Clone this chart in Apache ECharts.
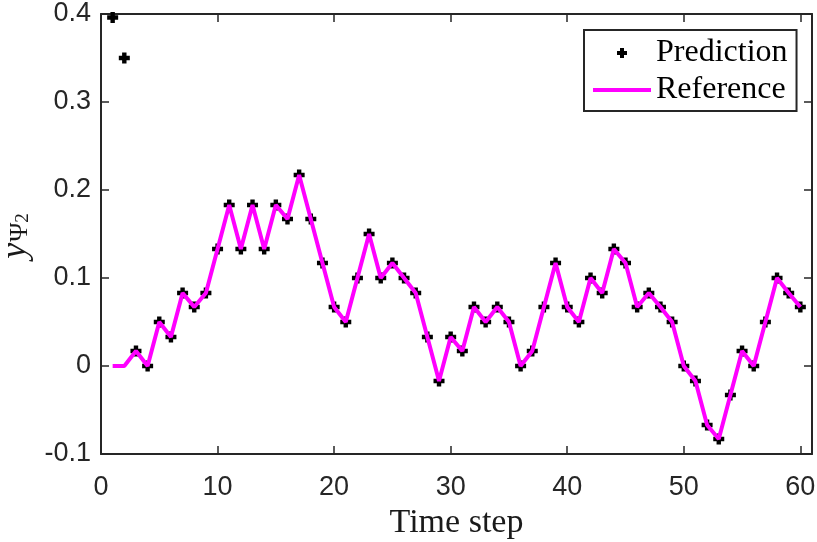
<!DOCTYPE html>
<html>
<head>
<meta charset="utf-8">
<script src="https://cdn.jsdelivr.net/npm/echarts@6/dist/echarts.min.js"></script>
<style>html,body{margin:0;padding:0;background:#fff}#c{width:817px;height:542px}</style>
</head>
<body>
<div id="c"></div>
<script>
var timeSteps = [1,2,3,4,5,6,7,8,9,10,11,12,13,14,15,16,17,18,19,20,21,22,23,24,25,26,27,28,29,30,31,32,33,34,35,36,37,38,39,40,41,42,43,44,45,46,47,48,49,50,51,52,53,54,55,56,57,58,59,60];
var prediction = [0.396,0.35,0.017,0,0.05,0.033,0.083,0.067,0.083,0.133,0.183,0.133,0.183,0.133,0.183,0.167,0.217,0.167,0.117,0.067,0.05,0.1,0.15,0.1,0.117,0.1,0.083,0.033,-0.017,0.033,0.017,0.067,0.05,0.067,0.05,0,0.017,0.067,0.117,0.067,0.05,0.1,0.083,0.133,0.117,0.067,0.083,0.067,0.05,0,-0.017,-0.067,-0.083,-0.033,0.017,0,0.05,0.1,0.083,0.067];
var reference = [0,0,0.017,0,0.05,0.033,0.083,0.067,0.083,0.133,0.183,0.133,0.183,0.133,0.183,0.167,0.217,0.167,0.117,0.067,0.05,0.1,0.15,0.1,0.117,0.1,0.083,0.033,-0.017,0.033,0.017,0.067,0.05,0.067,0.05,0,0.017,0.067,0.117,0.067,0.05,0.1,0.083,0.133,0.117,0.067,0.083,0.067,0.05,0,-0.017,-0.067,-0.083,-0.033,0.017,0,0.05,0.1,0.083,0.067];
var xTicks = {min: 0, max: 61, interval: 10};
var yTicks = {min: -0.1, max: 0.4, interval: 0.1};
var seriesNames = ['Prediction', 'Reference'];
var xName = 'Time step';

var axisColor = '#262626';
var plusPath = 'path://M3,0H7V3H10V7H7V10H3V7H0V3H3Z';
function pairs(xs, ys){ return xs.map(function(x,i){ return [x, ys[i]]; }); }

var chart = echarts.init(document.getElementById('c'), null, {renderer: 'canvas'});
var tickFont = {fontFamily: 'Liberation Sans, Arial, sans-serif', fontSize: 27, color: axisColor};
chart.setOption({
  animation: false,
  backgroundColor: '#fff',
  grid: {left: 101, right: 5, top: 14, bottom: 88, containLabel: false, outerBoundsMode: 'none'},
  xAxis: [{
    type: 'value', min: xTicks.min, max: xTicks.max, interval: xTicks.interval,
    name: xName, nameLocation: 'middle', nameGap: 52,
    nameTextStyle: {fontFamily: 'Liberation Serif, Times New Roman, serif', fontSize: 34, color: '#1a1a1a'},
    axisLine: {show: true, onZero: false, lineStyle: {color: axisColor, width: 2}},
    axisTick: {show: true, inside: true, length: 8, lineStyle: {color: axisColor, width: 1.5}},
    axisLabel: Object.assign({margin: 20, showMaxLabel: false}, tickFont),
    splitLine: {show: false}
  }, {
    type: 'value', position: 'top', min: xTicks.min, max: xTicks.max, interval: xTicks.interval,
    axisLine: {show: true, onZero: false, lineStyle: {color: axisColor, width: 2}},
    axisTick: {show: true, inside: true, length: 8, lineStyle: {color: axisColor, width: 1.5}},
    axisLabel: {show: false}, splitLine: {show: false}
  }],
  yAxis: [{
    type: 'value', min: yTicks.min, max: yTicks.max, interval: yTicks.interval,
    axisLine: {show: true, onZero: false, lineStyle: {color: axisColor, width: 2}},
    axisTick: {show: true, inside: true, length: 8, lineStyle: {color: axisColor, width: 1.5}},
    axisLabel: Object.assign({margin: 10}, tickFont),
    splitLine: {show: false}
  }, {
    type: 'value', position: 'right', min: yTicks.min, max: yTicks.max, interval: yTicks.interval,
    axisLine: {show: true, onZero: false, lineStyle: {color: axisColor, width: 2}},
    axisTick: {show: true, inside: true, length: 8, lineStyle: {color: axisColor, width: 1.5}},
    axisLabel: {show: false}, splitLine: {show: false}
  }],
  legend: {
    orient: 'vertical', left: 584, top: 30,
    padding: [7, 9, 5, 9], itemGap: 5,
    itemWidth: 58, itemHeight: 10,
    selectedMode: false,
    backgroundColor: '#fff', borderColor: axisColor, borderWidth: 2,
    textStyle: {fontFamily: 'Liberation Serif, Times New Roman, serif', fontSize: 32, lineHeight: 30, color: '#000'},
    data: [
      {name: seriesNames[0], icon: plusPath, itemStyle: {color: '#000', opacity: 1}},
      {name: seriesNames[1], icon: 'path://M0,0H58V4H0Z', itemStyle: {color: '#ff00ff'}}
    ]
  },
  graphic: [{
    type: 'text', x: 16, y: 236, rotation: Math.PI / 2,
    style: {
      text: '{a|y}{b|Ψ}{c|2}', align: 'center', verticalAlign: 'middle', fill: '#1a1a1a',
      rich: {
        a: {fontFamily: 'Liberation Serif, serif', fontStyle: 'italic', fontSize: 36, lineHeight: 34, verticalAlign: 'middle', fill: '#1a1a1a'},
        b: {fontFamily: 'Liberation Serif, serif', fontSize: 26, lineHeight: 24, verticalAlign: 'bottom', padding: [0,0,0,1], fill: '#1a1a1a'},
        c: {fontFamily: 'Liberation Serif, serif', fontSize: 19, lineHeight: 17, verticalAlign: 'bottom', fill: '#1a1a1a'}
      }
    }
  }],
  series: [{
    name: seriesNames[0], type: 'scatter', xAxisIndex: 0, yAxisIndex: 0,
    data: pairs(timeSteps, prediction),
    symbol: plusPath, symbolSize: 11,
    itemStyle: {color: '#000', opacity: 1}, z: 2
  }, {
    name: seriesNames[1], type: 'line', xAxisIndex: 0, yAxisIndex: 0,
    data: pairs(timeSteps, reference),
    symbol: 'none', showSymbol: false,
    lineStyle: {color: '#ff00ff', width: 4},
    itemStyle: {color: '#ff00ff'}, z: 3
  }]
});
</script>
</body>
</html>
